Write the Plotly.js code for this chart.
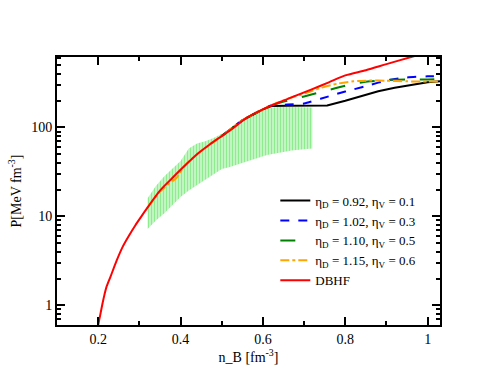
<!DOCTYPE html>
<html>
<head>
<meta charset="utf-8">
<script src="https://cdn.plot.ly/plotly-3.0.1.min.js"></script>
<style>
  body { margin: 0; background: #fff; }
  #myPlot { width: 495px; height: 383px; }
</style>
</head>
<body>
<div id="myPlot"></div>
<script>
// DBHF curve
var dbhfX = [0.2, 0.205, 0.21, 0.215, 0.22, 0.23, 0.245, 0.26, 0.275, 0.29, 0.305, 0.32, 0.35, 0.38, 0.41, 0.44, 0.47, 0.5, 0.53, 0.56, 0.6, 0.64, 0.68, 0.72, 0.76, 0.8, 0.85, 0.9, 0.96, 1.03];
var dbhfY = [0.6, 0.78, 1.02, 1.3, 1.6, 2.1, 3.2, 4.6, 6.1, 7.9, 10, 12.6, 19.5, 27, 37, 50, 64, 80, 100, 128, 160, 192, 228, 270, 322, 385, 440, 515, 620, 760];

// eta_D = 0.92, eta_V = 0.1
var blackX = [0.5, 0.55, 0.6, 0.62, 0.66, 0.7, 0.756, 0.8, 0.84, 0.88, 0.92, 0.96, 1.0, 1.03];
var blackY = [80, 120, 160, 174, 175, 176, 177, 200, 228, 255, 280, 302, 322, 330];

// eta_D = 1.02, eta_V = 0.3
var blueX = [0.5, 0.55, 0.6, 0.62, 0.66, 0.7, 0.74, 0.78, 0.82, 0.86, 0.9, 0.95, 1.0, 1.03];
var blueY = [80, 120, 160, 177, 181, 186, 210, 239, 268, 300, 338, 365, 376, 378];

// eta_D = 1.10, eta_V = 0.5
var greenX = [0.5, 0.55, 0.6, 0.62, 0.66, 0.7, 0.74, 0.78, 0.82, 0.86, 0.9, 0.95, 1.0, 1.03];
var greenY = [80, 120, 160, 177, 200, 223, 250, 279, 310, 330, 342, 347, 347, 350];

// eta_D = 1.15, eta_V = 0.6
var orangeX = [0.32, 0.35, 0.37, 0.39, 0.41, 0.44, 0.5, 0.55, 0.6, 0.62, 0.66, 0.7, 0.74, 0.78, 0.82, 0.86, 0.9, 0.95, 1.0, 1.03];
var orangeY = [12.6, 19, 23, 27, 37, 50, 80, 120, 160, 177, 210, 240, 278, 310, 330, 337, 335, 330, 328, 328];

// hatched band
var bandX = [0.32, 0.34, 0.36, 0.38, 0.40, 0.42, 0.44, 0.46, 0.48, 0.50, 0.52, 0.55, 0.58, 0.61, 0.64, 0.67, 0.70, 0.72];
var bandLow = [7.2, 9, 10.8, 13.5, 16.5, 19.5, 22.5, 26, 30, 34, 36, 40, 45, 49, 52, 55, 57, 58];
var bandHigh = [16, 22, 28, 34, 42, 58, 66, 70, 76, 85, 95, 115, 140, 166, 170, 170, 168, 168];

var xTicks = [0.2, 0.4, 0.6, 0.8, 1.0];
var xTickText = ["0.2", "0.4", "0.6", "0.8", "1"];
var yTicks = [1, 10, 100];
var yTickText = ["1", "10", "100"];

var names = [
    "η<sub>D</sub> = 0.92, η<sub>V</sub> = 0.1",
    "η<sub>D</sub> = 1.02, η<sub>V</sub> = 0.3",
    "η<sub>D</sub> = 1.10, η<sub>V</sub> = 0.5",
    "η<sub>D</sub> = 1.15, η<sub>V</sub> = 0.6",
    "DBHF"
];

var minorY = [];
[0.1, 1, 10, 100].forEach(function (d) {
    for (var k = 2; k <= 9; k++) {
        minorY.push(k * d);
    }
});

var data = [{
    x: bandX, y: bandLow,
    mode: "lines", type: "scatter",
    line: { width: 0, color: "rgba(0,0,0,0)" },
    showlegend: false, hoverinfo: "skip"
}, {
    x: bandX, y: bandHigh,
    mode: "lines", type: "scatter",
    fill: "tonexty",
    fillcolor: "rgba(0,0,0,0)",
    fillpattern: { shape: "|", fgcolor: "#8eec8e", bgcolor: "rgba(0,0,0,0)", size: 3, solidity: 0.7, fillmode: "replace" },
    line: { width: 0, color: "rgba(0,0,0,0)" },
    showlegend: false, hoverinfo: "skip"
}, {
    x: blackX, y: blackY, name: names[0],
    mode: "lines", type: "scatter",
    line: { color: "#000000", width: 2 }
}, {
    x: blueX, y: blueY, name: names[1],
    mode: "lines", type: "scatter",
    line: { color: "#0000ff", width: 2, dash: "dash", shape: "spline", smoothing: 0.6 }
}, {
    x: greenX, y: greenY, name: names[2],
    mode: "lines", type: "scatter",
    line: { color: "#008000", width: 2, dash: "longdash", shape: "spline", smoothing: 0.6 }
}, {
    x: orangeX, y: orangeY, name: names[3],
    mode: "lines", type: "scatter",
    line: { color: "#ffa500", width: 2, dash: "dashdot", shape: "spline", smoothing: 0.6 }
}, {
    x: dbhfX, y: dbhfY, name: names[4],
    mode: "lines", type: "scatter",
    line: { color: "#ff0000", width: 2, shape: "spline", smoothing: 0.8 }
}];

var serif = "'Liberation Serif', 'Times New Roman', serif";
var font = { family: serif, size: 14, color: "#000" };

var layout = {
    width: 495,
    height: 383,
    margin: { l: 57, r: 55, t: 57, b: 58 },
    paper_bgcolor: "#fff",
    plot_bgcolor: "#fff",
    font: font,
    showlegend: true,
    legend: {
        x: 0.57, y: 0.52, xanchor: "left", yanchor: "top",
        traceorder: "normal",
        bgcolor: "rgba(0,0,0,0)",
        font: { family: serif, size: 13, color: "#000" },
        itemwidth: 30,
        tracegroupgap: 0
    },
    xaxis: {
        range: [0.1, 1.03],
        tickmode: "array", tickvals: xTicks, ticktext: xTickText,
        ticks: "inside", ticklen: 8, tickwidth: 2, tickcolor: "#000",
        minor: { tickmode: "array", tickvals: [0.1, 0.3, 0.5, 0.7, 0.9], ticks: "inside", ticklen: 4, tickwidth: 2, tickcolor: "#000", showgrid: false },
        showline: true, linewidth: 2, linecolor: "#000", mirror: "ticks",
        showgrid: false, zeroline: false,
        title: { text: "n_B [fm<sup>-3</sup>]", font: font, standoff: 4 }
    },
    yaxis: {
        type: "log",
        range: [Math.log10(0.6), Math.log10(620)],
        tickmode: "array", tickvals: yTicks, ticktext: yTickText,
        ticks: "inside", ticklen: 8, tickwidth: 2, tickcolor: "#000",
        minor: { tickmode: "array", tickvals: minorY, ticks: "inside", ticklen: 4, tickwidth: 2, tickcolor: "#000", showgrid: false },
        showline: true, linewidth: 2, linecolor: "#000", mirror: "ticks",
        showgrid: false, zeroline: false,
        title: { text: "P[MeV fm<sup>-3</sup>]", font: font, standoff: 6 }
    }
};

Plotly.newPlot("myPlot", data, layout, { staticPlot: true, displayModeBar: false });
</script>
</body>
</html>
